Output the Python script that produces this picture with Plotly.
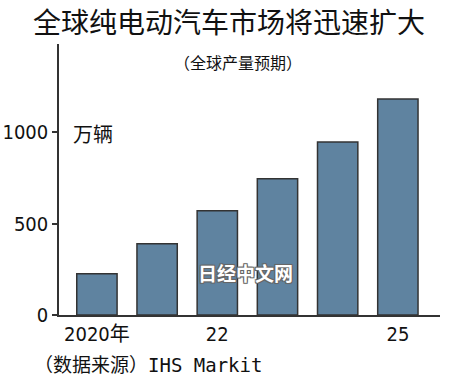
import plotly.graph_objects as go

years = ["2020年", "2021", "2022", "2023", "2024", "2025"]
production = [225, 390, 570, 745, 945, 1180]
xtick_vals = ["2020年", "2022", "2025"]
xtick_text = ["2020年", "22", "25"]
ytick_vals = [0, 500, 1000]

CJK = "Noto Sans CJK SC, Noto Sans CJK JP, sans-serif"
NUM = "DejaVu Sans Condensed, Noto Sans CJK SC, sans-serif"

W, H = 450, 390
L, R, T, B = 59, 10, 44, 75

fig = go.Figure()
fig.add_trace(go.Bar(
    x=years, y=production,
    marker=dict(color="#5f83a0", line=dict(color="#333333", width=1.5)),
    width=0.67,
    hoverinfo="skip",
))

anns = [
    dict(text="全球纯电动汽车市场将迅速扩大", x=229, y=21, font=dict(family=CJK, size=28, color="#111111")),
    dict(text="（全球产量预期）", x=238, y=62, font=dict(family=CJK, size=16, color="#111111")),
    dict(text="万辆", x=93, y=133, font=dict(family=CJK, size=20, color="#111111")),
    dict(text="（数据来源）IHS Markit", x=148, y=365,
         font=dict(family="DejaVu Sans Mono, Noto Sans CJK SC, monospace", size=19, color="#111111")),
    dict(text="<b>日经中文网</b>", x=245, y=272,
         font=dict(family=CJK, size=19, color="white",
                   shadow="-1px -1px 0 #666, 1px -1px 0 #666, -1px 1px 0 #666, 1px 1px 0 #666, 0 0 2px #666")),
]

for a in anns:
    px, py = a["x"], a["y"]
    a.update(xref="paper", yref="paper", showarrow=False, xanchor="center", yanchor="middle",
             x=(px - L) / (W - L - R), y=(H - py - B) / (H - T - B))

fig.update_layout(
    width=W, height=H,
    margin=dict(l=L, r=R, t=T, b=B, autoexpand=False),
    paper_bgcolor="white", plot_bgcolor="white",
    showlegend=False,
    xaxis=dict(
        type="category", range=[-0.63, 5.70], automargin=False,
        tickmode="array", tickvals=xtick_vals, ticktext=xtick_text,
        showline=True, linecolor="#333333", linewidth=1.5,
        showgrid=False, ticks="", zeroline=False,
        tickfont=dict(family=NUM, size=20, color="#111111"),
    ),
    yaxis=dict(
        range=[0, 1481], automargin=False,
        tickmode="array", tickvals=ytick_vals,
        showline=True, linecolor="#333333", linewidth=1.5,
        showgrid=False, zeroline=False,
        ticks="outside", ticklen=5, tickcolor="#333333", tickwidth=1.5,
        tickfont=dict(family=NUM, size=20, color="#111111"),
    ),
    annotations=anns,
)

fig.write_html("out.html", config={"displayModeBar": False},
               post_script="document.body.style.margin='0';")
